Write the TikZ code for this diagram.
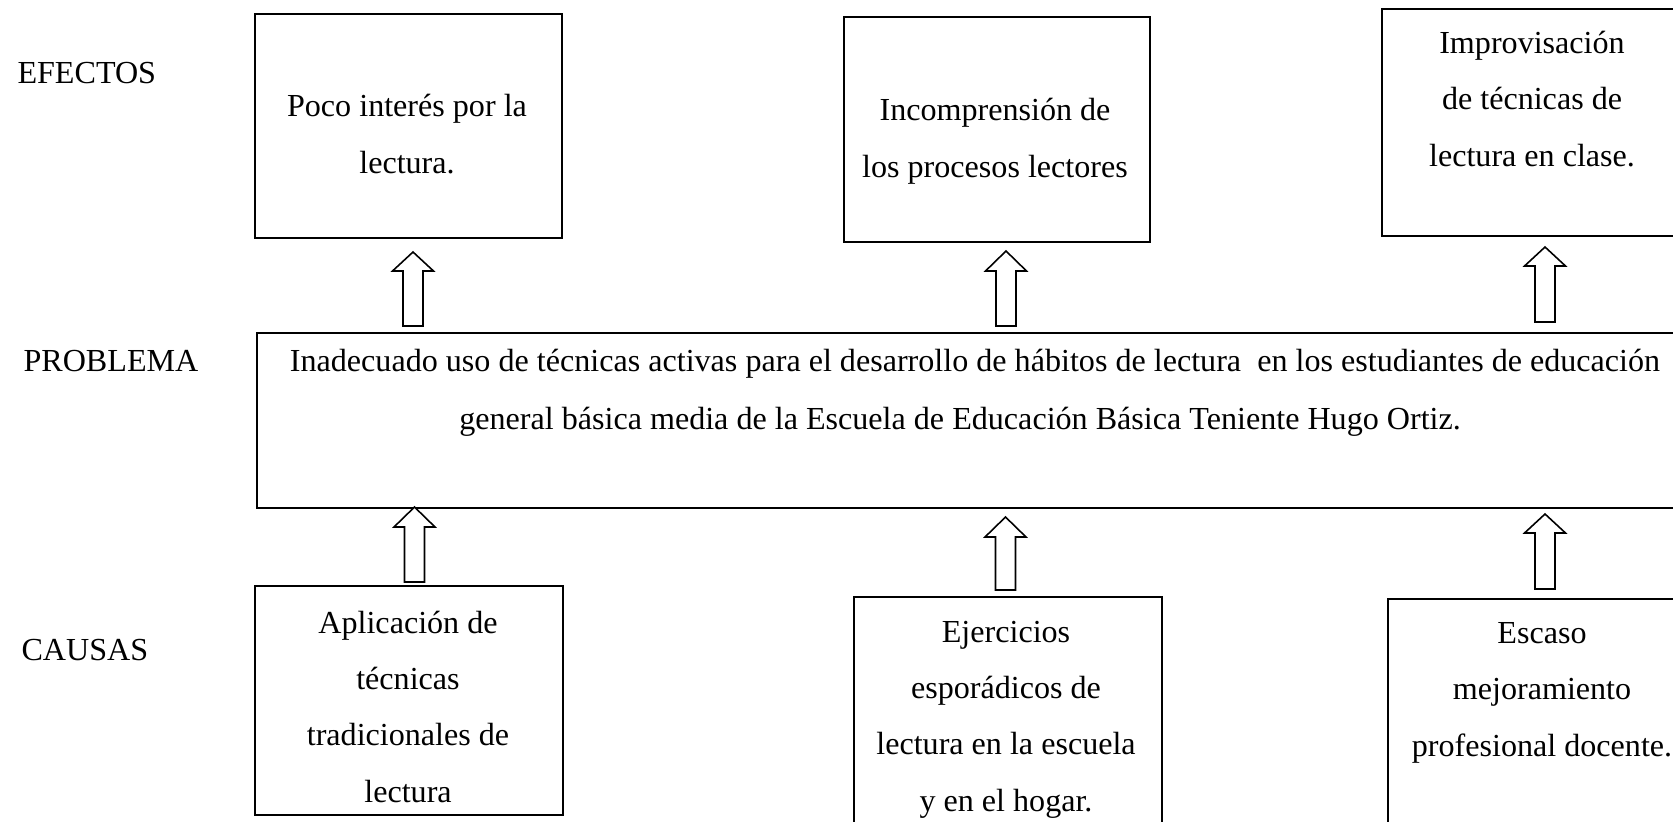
\documentclass[tikz,border=0pt]{standalone}
\usepackage{fontspec}
\setmainfont{Liberation Serif}
\tikzset{
  box/.style={draw=black, line width=0.8pt, rectangle, inner sep=0pt, anchor=north west},
  txt/.style={anchor=base, align=center, inner sep=0pt, font=\fontsize{12.2}{21.3}\selectfont},
  lbl/.style={anchor=base west, inner sep=0pt, font=\fontsize{12.2}{14}\selectfont},
  barrow/.style={draw=black, line width=0.6pt, fill=white, line join=miter}
}
\newcommand{\uparr}[4]{% x, bottom, head base, tip
  \draw[barrow] (#1-10,#2) -- (#1-10,#3) -- (#1-20.5,#3) -- (#1,#4) -- (#1+20.5,#3) -- (#1+10,#3) -- (#1+10,#2) -- cycle;}
\begin{document}
\begin{tikzpicture}[x=0.38pt,y=-0.38pt]
\useasboundingbox (0,0) rectangle (1673,821);
\begin{scope}
\clip (0,0) rectangle (1673,821);
% labels
\node[lbl] (lef) at (17,83) {EFECTOS};
\node[lbl] (lpr) at (23,371) {PROBLEMA};
\node[lbl] (lca) at (21,660) {CAUSAS};
% effect boxes
\node[box, minimum width=307*0.38pt, minimum height=224*0.38pt] (e1) at (254,13) {};
\node[box, minimum width=306*0.38pt, minimum height=225*0.38pt] (e2) at (843,16) {};
\node[box, minimum width=307*0.38pt, minimum height=227*0.38pt] (e3) at (1381,8) {};
\node[txt] (te1) at (407,173) {Poco interés por la\\lectura.};
\node[txt] (te2) at (995,177) {Incomprensión de\\los procesos lectores};
\node[txt] (te3) at (1532,166) {Improvisación\\de técnicas de\\lectura en clase.};
% problem box
\node[box, minimum width=1434*0.38pt, minimum height=175*0.38pt] (pb) at (256,332) {};
\node[txt] (tp1) at (975,371) {Inadecuado uso de técnicas activas para el desarrollo de hábitos de lectura \ en los estudiantes de educación};
\node[txt] (tp2) at (960,429) {general básica media de la Escuela de Educación Básica Teniente Hugo Ortiz.};
% cause boxes
\node[box, minimum width=308*0.38pt, minimum height=229*0.38pt] (c1) at (254,585) {};
\node[box, minimum width=308*0.38pt, minimum height=240*0.38pt] (c2) at (853,596) {};
\node[box, minimum width=308*0.38pt, minimum height=240*0.38pt] (c3) at (1387,598) {};
\node[txt] (tc1) at (408,802) {Aplicación de\\técnicas\\tradicionales de\\lectura};
\node[txt] (tc2) at (1006,811) {Ejercicios\\esporádicos de\\lectura en la escuela\\y en el hogar.};
\node[txt] (tc3) at (1542,756) {Escaso\\mejoramiento\\profesional docente.};
% block arrows
\uparr{413}{326}{271}{252}
\uparr{1006}{326}{271}{251}
\uparr{1545}{322}{266}{247}
\uparr{414.5}{582}{527}{507}
\uparr{1005.5}{590}{537}{517}
\uparr{1545}{589}{533}{514}
\end{scope}
\end{tikzpicture}
\end{document}
